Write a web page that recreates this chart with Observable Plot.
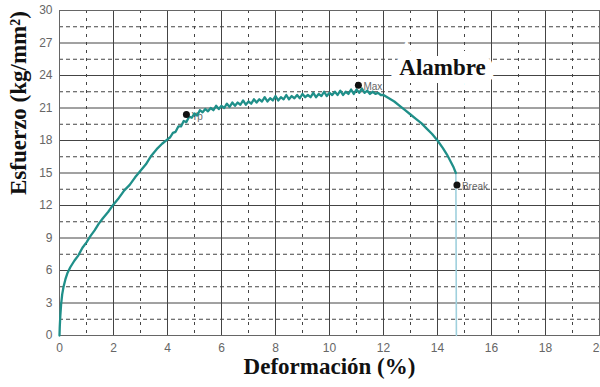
<!DOCTYPE html>
<html><head><meta charset="utf-8">
<script src="https://cdn.jsdelivr.net/npm/d3@7"></script>
<script src="https://cdn.jsdelivr.net/npm/@observablehq/plot@0.6"></script>
<style>body{margin:0;background:#fff;}</style>
</head><body><div id="chart"></div>
<script>
// Curva esfuerzo-deformación (Alambre)
const strain = [0,0.01,0.03,0.06,0.1,0.15,0.22,0.3,0.4,0.55,0.7,0.85,1.0,1.15,1.3,1.45,1.6,1.8,2.0,2.2,2.4,2.6,2.8,3.0,3.2,3.4,3.6,3.8,4.0,
4.1,4.2,4.3,4.4,4.5,4.6,4.7,4.8,4.9,5.0,5.1,5.2,5.3,5.4,5.5,5.6,5.7,5.8,5.9,6.0,
6.1,6.2,6.3,6.4,6.5,6.6,6.7,6.8,6.9,7.0,7.1,7.2,7.3,7.4,7.5,7.6,7.7,7.8,7.9,8.0,
8.1,8.2,8.3,8.4,8.5,8.6,8.7,8.8,8.9,9.0,9.1,9.2,9.3,9.4,9.5,9.6,9.7,9.8,9.9,10.0,
10.1,10.2,10.3,10.4,10.5,10.6,10.7,10.8,10.9,11.0,11.1,11.2,11.3,11.4,11.5,11.6,11.7,11.8,11.9,12.0,
12.2,12.4,12.6,12.8,13.0,13.2,13.4,13.6,13.8,14.0,14.2,14.35,14.5,14.6,14.68];
const stress = [0,0.8,1.8,2.9,3.8,4.5,5.2,5.8,6.3,6.9,7.4,8.1,8.6,9.2,9.7,10.3,10.8,11.4,12.1,12.7,13.4,13.9,14.6,15.2,15.8,16.6,17.2,17.7,18.1,
18.3,18.7,18.8,19.3,19.3,19.8,19.7,20.2,20.1,20.5,20.3,20.8,20.6,20.9,20.7,21.0,20.8,21.2,20.9,21.2,
21.0,21.4,21.1,21.5,21.2,21.5,21.3,21.7,21.3,21.6,21.4,21.8,21.5,21.8,21.6,22.0,21.6,21.9,21.7,22.1,
21.7,22.0,21.8,22.2,21.8,22.1,21.9,22.2,21.9,22.3,22.0,22.2,22.0,22.4,22.0,22.3,22.1,22.5,22.1,22.4,
22.2,22.5,22.2,22.6,22.2,22.5,22.3,22.7,22.3,22.7,22.4,22.8,22.4,22.6,22.3,22.5,22.3,22.4,22.2,22.2,
21.9,21.6,21.2,20.8,20.4,20.0,19.6,19.1,18.6,18.0,17.3,16.7,16.0,15.5,15.0];

// caída tras la rotura
const dropStrain = [14.68, 14.7];
const dropStress = [15.0, 0];

// puntos notables
const markerLabels = ["Yp", "Max", "Break"];
const markerStrain = [4.7, 11.07, 14.72];
const markerStress = [20.4, 23.1, 13.9];

// ejes
const xMajorTicks = [0,2,4,6,8,10,12,14,16,18,20];
const xMinorTicks = [1,3,5,7,9,11,13,15,17,19];
const yMajorTicks = [0,3,6,9,12,15,18,21,24,27,30];
const yMinorTicks = [1.5,4.5,7.5,10.5,13.5,16.5,19.5,22.5,25.5,28.5];

const title = "Alambre";
const xLabel = "Deformación (%)";
const yLabel = "Esfuerzo (kg/mm²)";

const serif = "'Liberation Serif','Times New Roman',serif";

const chart = Plot.plot({
  width: 600, height: 387,
  marginLeft: 59, marginRight: 1, marginTop: 10, marginBottom: 52,
  style: {background: "#fff", fontFamily: "'Liberation Sans', Arial, sans-serif", overflow: "visible"},
  x: {domain: [0, 20]},
  y: {domain: [0, 30]},
  marks: [
    Plot.ruleX(xMinorTicks, {stroke: "#444", strokeDasharray: "3,5", strokeWidth: 1}),
    Plot.ruleY(yMinorTicks, {stroke: "#444", strokeDasharray: "4,3", strokeWidth: 1}),
    Plot.ruleX(xMajorTicks, {stroke: "#444", strokeWidth: 1}),
    Plot.ruleY(yMajorTicks, {stroke: "#444", strokeWidth: 1}),
    Plot.frame({stroke: "#666"}),
    Plot.axisX(xMajorTicks, {tickSize: 0, tickPadding: 8, fontSize: 12, color: "#666", label: null}),
    Plot.axisY(yMajorTicks, {tickSize: 0, tickPadding: 7, fontSize: 12, color: "#666", label: null}),
    Plot.text([title], {frameAnchor: "top", dx: 113, dy: 48, fontSize: 23, fontWeight: "bold",
      fontFamily: serif, fill: "#111", stroke: "#fff", strokeWidth: 16, strokeLinejoin: "miter"}),
    Plot.text(markerLabels, {x: markerStrain, y: markerStress, text: markerLabels, textAnchor: "start",
      dx: 5, dy: 2, fontSize: 10, fill: "#666"}),
    Plot.line(dropStrain, {x: dropStrain, y: dropStress, stroke: "#9fd0dd", strokeWidth: 1.6}),
    Plot.line(strain, {x: strain, y: stress, stroke: "#1f8f89", strokeWidth: 2.3}),
    Plot.dot(markerLabels, {x: markerStrain, y: markerStress, r: 3.5, fill: "#111", stroke: null}),
    Plot.text([xLabel], {frameAnchor: "bottom", dy: 38, fontSize: 23, fontWeight: "bold",
      fontFamily: serif, fill: "#111"}),
    Plot.text([yLabel], {frameAnchor: "left", dx: -41, dy: 22, rotate: -90, fontSize: 23, fontWeight: "bold",
      fontFamily: serif, fill: "#111"})
  ]
});
document.getElementById("chart").append(chart);
</script>
</body></html>
